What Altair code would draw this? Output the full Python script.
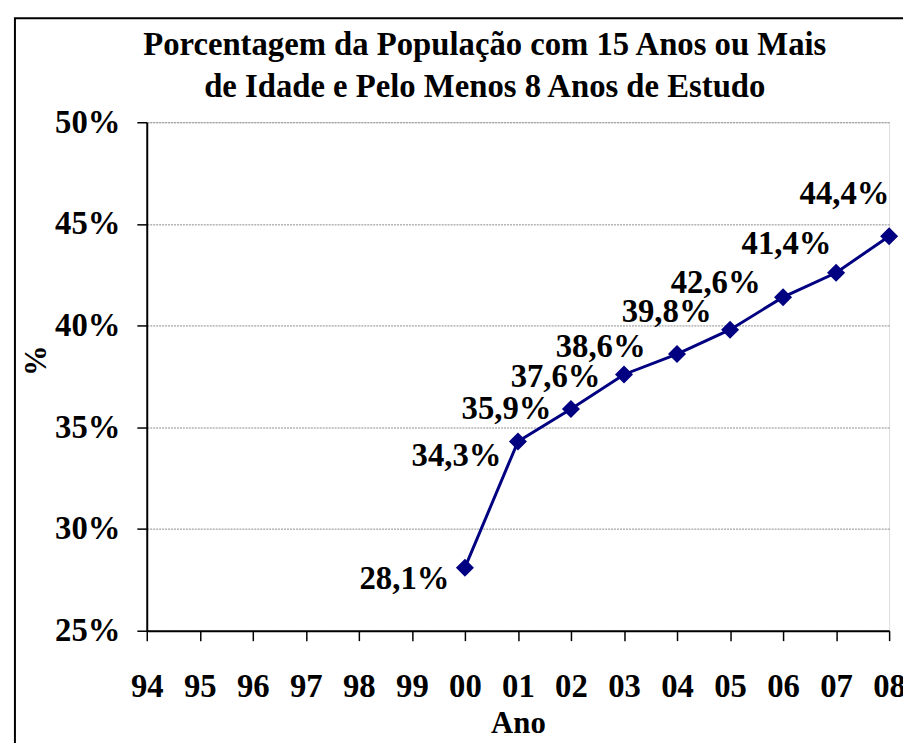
import altair as alt
import pandas as pd

# ---- data ----
axis_years = ["94", "95", "96", "97", "98", "99", "00", "01", "02",
              "03", "04", "05", "06", "07", "08"]
years = ["00", "01", "02", "03", "04", "05", "06", "07", "08"]
values = [28.1, 34.3, 35.9, 37.6, 38.6, 39.8, 41.4, 42.6, 44.4]
labels = ["28,1%", "34,3%", "35,9%", "37,6%", "38,6%", "39,8%", "42,6%", "41,4%", "44,4%"]
y_ticks = [25, 30, 35, 40, 45, 50]
title_lines = ["Porcentagem da População com 15 Anos ou Mais",
               "de Idade e Pelo Menos 8 Anos de Estudo"]

# label placement (styling): offset of each label from its point
label_dx = [-61, -62, -65, -69, -77, -64, -68, -50, -45]
label_dy = [12, 15, 0, 3, -7, -18, -14, -29, -42]

df = pd.DataFrame({"ano": years, "pct": values, "rotulo": labels})

FONT = "Liberation Serif"
W, H = 749, 513
FS = 33

x_enc = alt.X(
    "ano:O",
    scale=alt.Scale(type="point", domain=axis_years, padding=0),
    axis=alt.Axis(
        title="Ano", labelAngle=0, labelFontSize=FS, labelFont=FONT,
        labelFontWeight="bold", labelColor="black", labelPadding=30,
        titleFontSize=31, titleFont=FONT, titleFontWeight="bold",
        titleColor="black", titlePadding=6,
        tickSize=10, tickColor="black", tickWidth=1.5,
        domainColor="black", domainWidth=2, grid=False,
    ),
)
y_enc = alt.Y(
    "pct:Q",
    scale=alt.Scale(domain=[25, 50], nice=False, zero=False),
    axis=alt.Axis(
        values=y_ticks, labelExpr="datum.value + '%'", title="%",
        labelFontSize=FS, labelFont=FONT, labelFontWeight="bold",
        labelColor="black", labelPadding=17,
        titleFontSize=31, titleFont=FONT, titleFontWeight="bold",
        titleColor="black", titleAngle=-90, titleAlign="center",
        titleBaseline="middle", titleX=-111, titleY=240,
        tickSize=10, tickColor="black", tickWidth=1.5,
        domainColor="black", domainWidth=2,
        grid=True, gridColor="#8c8c8c", gridDash=[2, 1], gridWidth=1,
    ),
)

base = alt.Chart(df)

line = base.mark_line(color="#000080", strokeWidth=3).encode(x=x_enc, y=y_enc)
pts = base.mark_point(shape="diamond", filled=True, size=330, color="#000080",
                      opacity=1).encode(x=x_enc, y=y_enc)

text_layers = []
for i, yr in enumerate(years):
    t = base.transform_filter(alt.datum.ano == yr).mark_text(
        font=FONT, fontWeight="bold", fontSize=FS, color="black",
        align="center", baseline="middle", dx=label_dx[i], dy=label_dy[i],
    ).encode(x=x_enc, y=y_enc, text="rotulo:N")
    text_layers.append(t)

frame = alt.Chart(pd.DataFrame({"a": [0]})).mark_rect(
    fill=None, stroke="black", strokeWidth=2, clip=False
).encode(
    x=alt.value(-133), x2=alt.value(820), y=alt.value(-105), y2=alt.value(700)
)

title = alt.Chart(pd.DataFrame({"t": ["\n".join(title_lines)]})).mark_text(
    font=FONT, fontSize=33, fontWeight="bold", color="black",
    align="center", baseline="middle", lineBreak="\n", lineHeight=43,
).encode(x=alt.value(341), y=alt.value(-78), text="t:N")

chart = alt.layer(frame, line, pts, *text_layers, title).properties(
    width=W, height=H,
    autosize=alt.AutoSizeParams(type="none"),
    padding={"left": 140, "top": 112, "right": 14, "bottom": 110},
).configure_view(stroke="#8c8c8c", strokeWidth=1).configure(background="white")

chart.save("out.html", embed_options={"renderer": "svg", "actions": False})
